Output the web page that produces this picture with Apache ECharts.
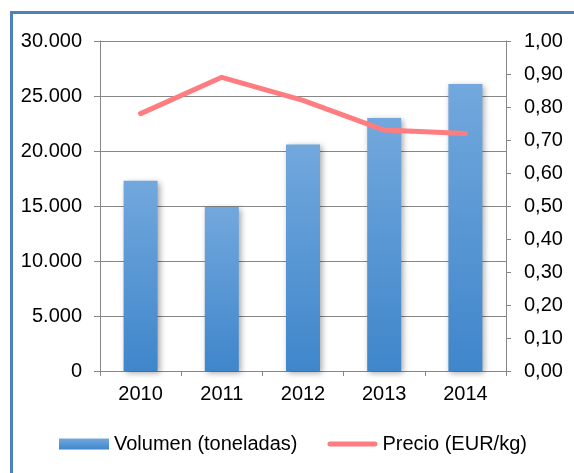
<!DOCTYPE html>
<html>
<head>
<meta charset="utf-8">
<script src="https://cdn.jsdelivr.net/npm/echarts@6/dist/echarts.min.js"></script>
<style>
html,body{margin:0;padding:0;background:#fff;}
#frame{position:absolute;left:10px;top:11px;width:700px;height:600px;border-left:3px solid #4f81bd;border-top:3px solid #4f81bd;box-sizing:border-box;}
#chart{position:absolute;left:0;top:0;width:574px;height:473px;}
</style>
</head>
<body>
<div id="frame"></div>
<div id="chart"></div>
<script>
const categories = ['2010', '2011', '2012', '2013', '2014'];
const volumen = [17300, 14900, 20600, 23000, 26100];
const precio = [0.78, 0.89, 0.82, 0.73, 0.72];
const seriesNames = ['Volumen (toneladas)', 'Precio (EUR/kg)'];

const chart = echarts.init(document.getElementById('chart'), null, {renderer: 'canvas'});
const axisColor = '#868686';
const font = 'Liberation Sans, Arial, sans-serif';
chart.setOption({
  backgroundColor: 'transparent',
  animation: false,
  grid: {left: 100, right: 68, top: 41, bottom: 102},
  legend: {
    left: 59, top: 434, padding: 0,
    itemWidth: 50, itemHeight: 11, itemGap: 30,
    textStyle: {fontSize: 20, color: '#000', fontFamily: font},
    data: [
      {name: seriesNames[0], icon: 'rect'},
      {name: seriesNames[1], icon: 'path://M2.5,0 L47.5,0 A2.5,2.5 0 0 1 47.5,5 L2.5,5 A2.5,2.5 0 0 1 2.5,0 Z',
       itemStyle: {color: '#ff7c80'}}
    ]
  },
  xAxis: {
    type: 'category',
    data: categories,
    axisLine: {lineStyle: {color: axisColor, width: 1}},
    axisTick: {show: true, length: 5, lineStyle: {color: axisColor}},
    axisLabel: {fontSize: 20, color: '#000', fontFamily: font, margin: 13}
  },
  yAxis: [
    {
      type: 'value', min: 0, max: 30000, interval: 5000,
      axisLine: {show: true, lineStyle: {color: axisColor}},
      axisTick: {show: true, length: 6, lineStyle: {color: axisColor}},
      splitLine: {show: true, lineStyle: {color: axisColor, width: 1}},
      axisLabel: {
        fontSize: 20, color: '#000', fontFamily: font, margin: 18,
        formatter: v => v === 0 ? '0' : String(v).replace(/\B(?=(\d{3})+(?!\d))/g, '.')
      }
    },
    {
      type: 'value', min: 0, max: 1, interval: 0.1, position: 'right',
      axisLine: {show: true, lineStyle: {color: axisColor}},
      axisTick: {show: true, length: 5, lineStyle: {color: axisColor}},
      splitLine: {show: false},
      axisLabel: {
        fontSize: 20, color: '#000', fontFamily: font, margin: 18,
        formatter: v => v.toFixed(2).replace('.', ',')
      }
    }
  ],
  series: [
    {
      name: seriesNames[0], type: 'bar', data: volumen, barWidth: 34, yAxisIndex: 0,
      itemStyle: {
        color: new echarts.graphic.LinearGradient(0, 0, 0, 1, [
          {offset: 0, color: '#72a8dd'},
          {offset: 1, color: '#3f86cb'}
        ]),
        shadowBlur: 6, shadowColor: 'rgba(0,0,0,0.35)', shadowOffsetX: 2, shadowOffsetY: 2
      }
    },
    {
      name: seriesNames[1], type: 'line', data: precio, yAxisIndex: 1,
      symbol: 'none', showSymbol: false,
      lineStyle: {color: '#ff7c80', width: 5, cap: 'round', join: 'round'},
      itemStyle: {color: '#ff7c80'}
    }
  ]
});
</script>
</body>
</html>
